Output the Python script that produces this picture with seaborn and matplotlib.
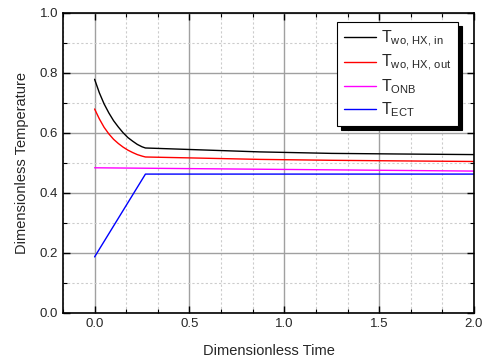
import numpy as np
import pandas as pd
import seaborn as sns
import matplotlib.pyplot as plt
from matplotlib.ticker import MultipleLocator

# values
t_hx = [0.0, 0.025, 0.05, 0.075, 0.1, 0.125, 0.15, 0.175, 0.2, 0.225, 0.25, 0.268,
        0.5, 0.87, 1.25, 1.6, 2.0]
t_wo_in = [0.779, 0.734, 0.697, 0.667, 0.641, 0.620, 0.601, 0.585, 0.573, 0.562, 0.554, 0.550,
           0.545, 0.537, 0.532, 0.530, 0.528]
t_wo_out = [0.680, 0.647, 0.619, 0.597, 0.579, 0.565, 0.553, 0.543, 0.535, 0.528, 0.523, 0.520,
            0.517, 0.512, 0.509, 0.507, 0.505]

t_onb = [0.0, 2.0]
v_onb = [0.484, 0.473]

t_ect = [0.0, 0.268, 2.0]
v_ect = [0.187, 0.463, 0.463]

sns.set_style('ticks')
plt.rcParams['font.family'] = ['Liberation Sans', 'DejaVu Sans']
plt.rcParams['mathtext.fontset'] = 'custom'
plt.rcParams['mathtext.rm'] = 'Liberation Sans'
plt.rcParams['mathtext.it'] = 'Liberation Sans'

fig = plt.figure(figsize=(4.86, 3.6), dpi=100)
ax = fig.add_axes([0.1296, 0.1306, 0.8457, 0.8333])

sns.lineplot(x=t_hx, y=t_wo_in, color='black', lw=1, ax=ax,
             label=r'T$_{\mathrm{wo,\,HX,\,in}}$')
sns.lineplot(x=t_hx, y=t_wo_out, color='red', lw=1, ax=ax,
             label=r'T$_{\mathrm{wo,\,HX,\,out}}$')
sns.lineplot(x=t_onb, y=v_onb, color='magenta', lw=1, ax=ax,
             label=r'T$_{\mathrm{ONB}}$')
sns.lineplot(x=t_ect, y=v_ect, color='blue', lw=1, ax=ax,
             label=r'T$_{\mathrm{ECT}}$')

ax.set_xlim(-1 / 6, 2.0)
ax.set_ylim(0.0, 1.0)
ax.xaxis.set_major_locator(MultipleLocator(0.5))
ax.xaxis.set_minor_locator(MultipleLocator(1 / 6))
ax.yaxis.set_major_locator(MultipleLocator(0.2))
ax.yaxis.set_minor_locator(MultipleLocator(0.1))
ax.xaxis.set_major_formatter(plt.FormatStrFormatter('%.1f'))
ax.yaxis.set_major_formatter(plt.FormatStrFormatter('%.1f'))

ax.grid(which='major', color='#a0a0a0', lw=1, ls='-')
ax.grid(which='minor', color='#cccccc', lw=0.8, ls=(0, (2, 2)))
ax.set_axisbelow(True)

ax.tick_params(which='both', direction='in', top=True, right=True,
               labelsize=9.5, color='black')
ax.tick_params(which='major', length=5, width=1)
ax.tick_params(which='minor', length=3, width=0.8)
for s in ax.spines.values():
    s.set_linewidth(1.2)
    s.set_color('black')

ax.set_xlabel('Dimensionless Time', fontsize=10.5, labelpad=10)
ax.set_ylabel('Dimensionless Temperature', fontsize=10.5, labelpad=8)

leg = ax.legend(loc='upper right', bbox_to_anchor=(0.961, 0.97), borderaxespad=0,
                fontsize=11.5, frameon=True, fancybox=False, edgecolor='black',
                shadow={'color': 'black', 'alpha': 1, 'ox': 3, 'oy': -3},
                handlelength=2.0, handletextpad=0.35, labelspacing=0.27,
                borderpad=0.4)
leg.get_frame().set_linewidth(0.8)
leg.get_frame().set_alpha(1)

fig.savefig('out.png', dpi=100)
